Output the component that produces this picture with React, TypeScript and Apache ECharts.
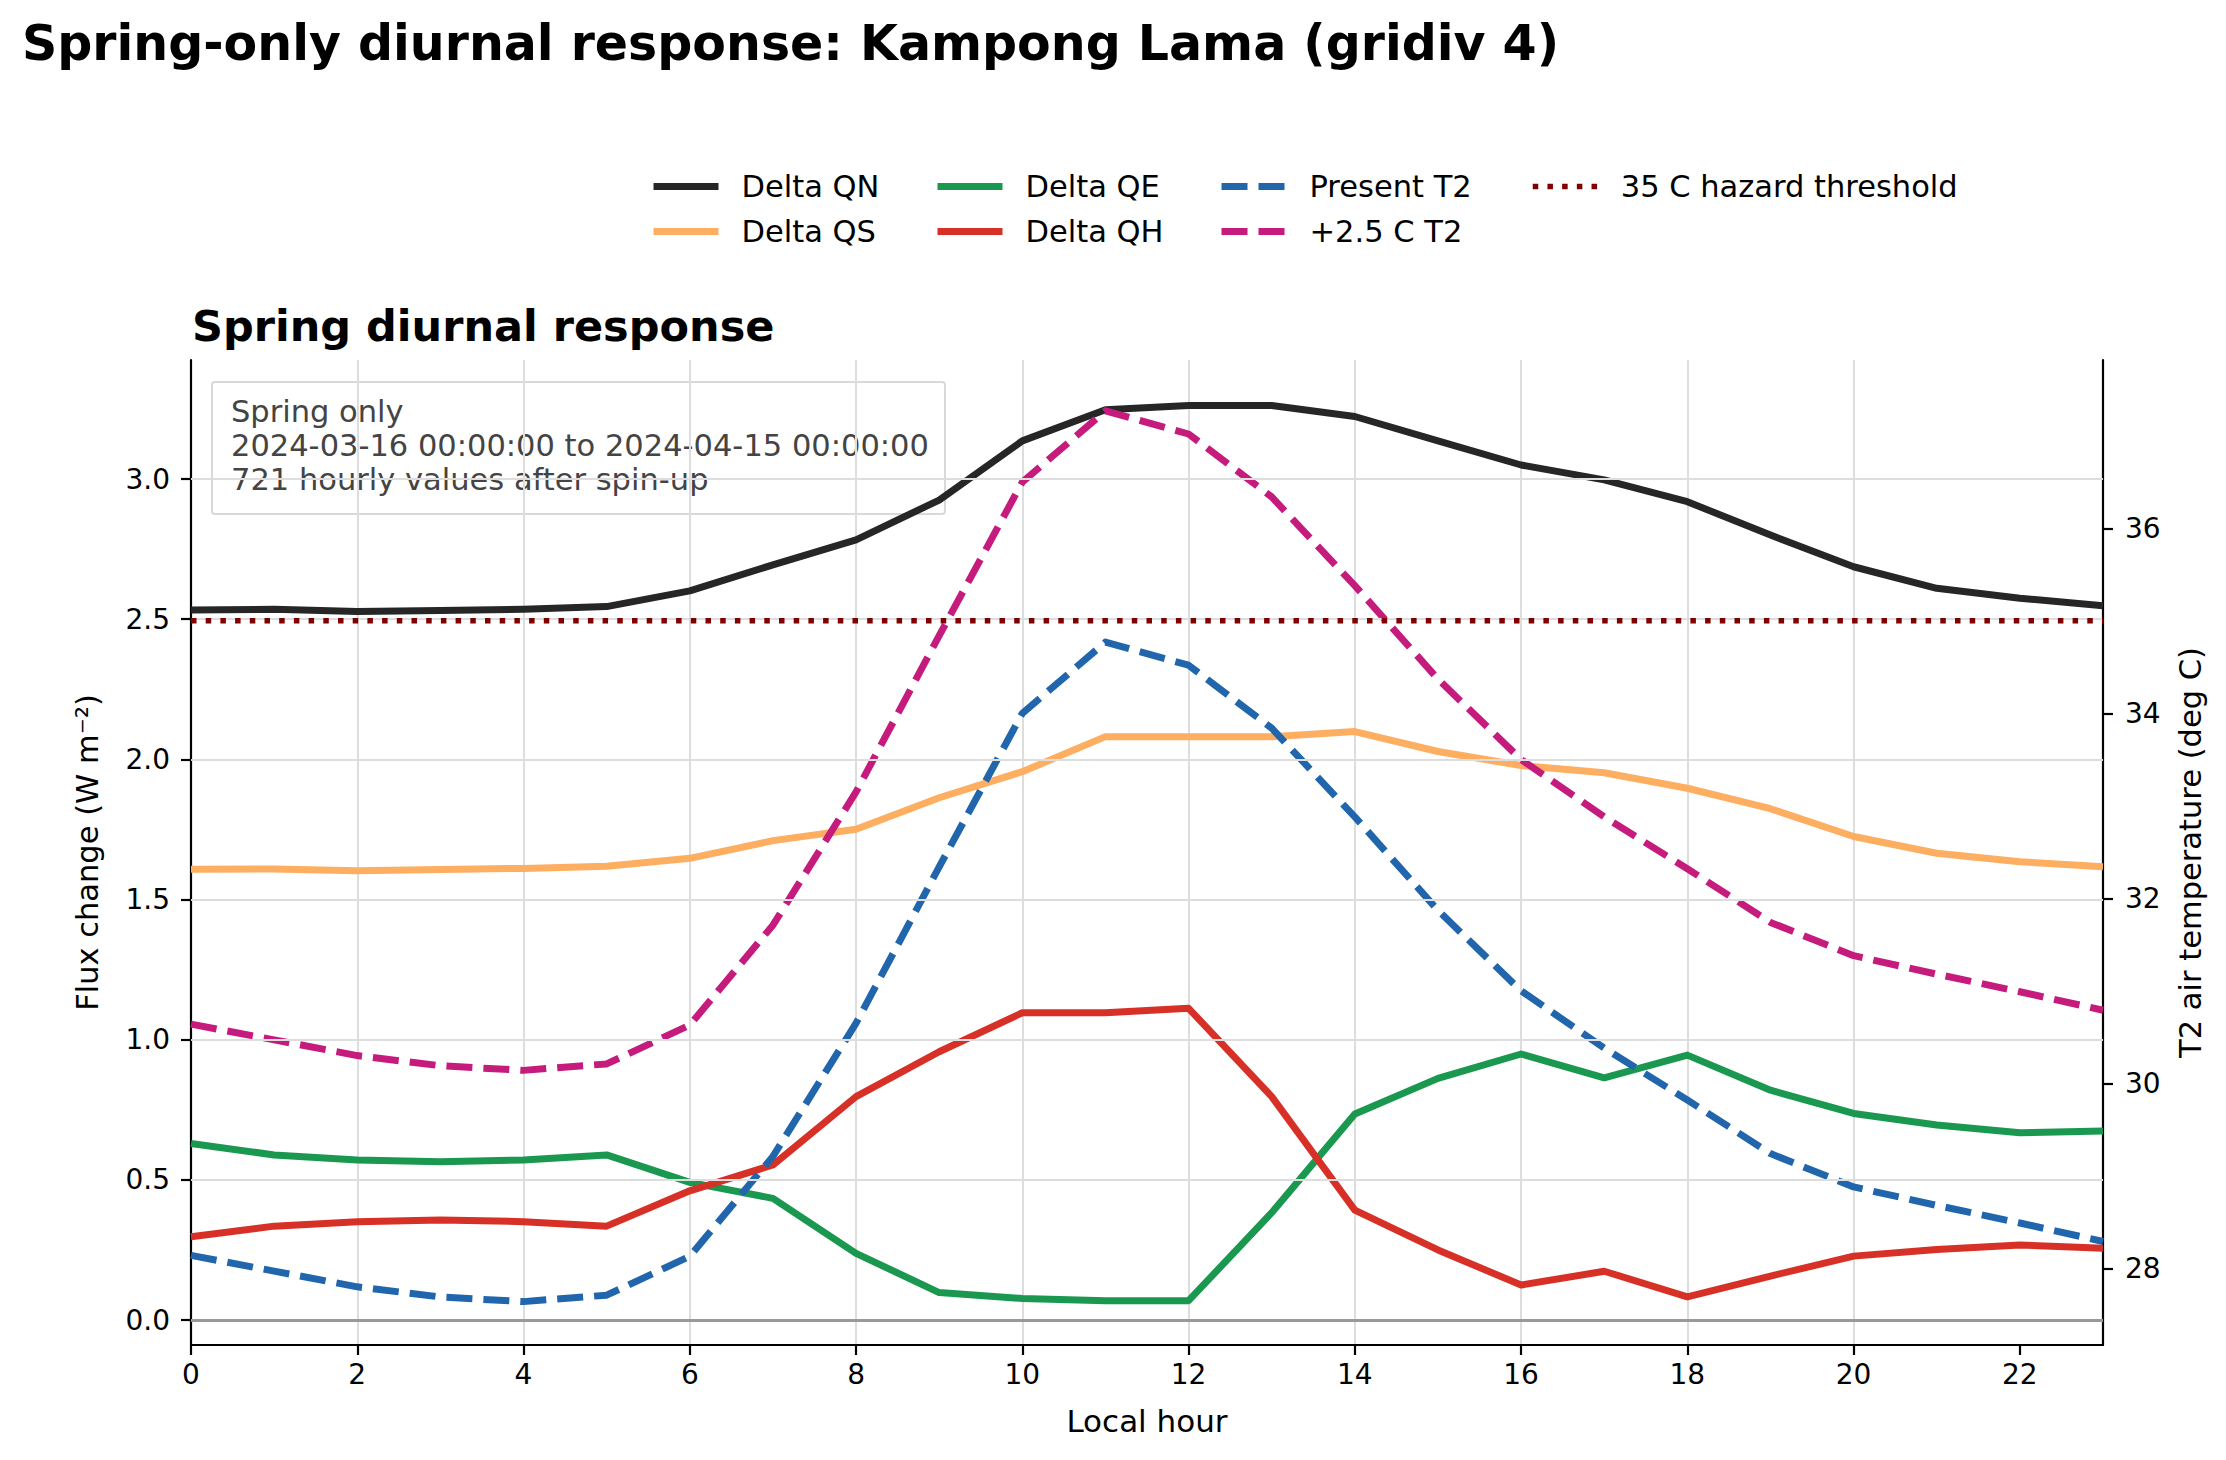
import React, { useEffect, useRef } from "react";
import * as echarts from "echarts";

// Local hour of day
const HOURS = [0, 1, 2, 3, 4, 5, 6, 7, 8, 9, 10, 11, 12, 13, 14, 15, 16, 17, 18, 19, 20, 21, 22, 23];

// Flux changes (W m-2), left axis
const DELTA_QN = [2.533, 2.535, 2.527, 2.531, 2.535, 2.545, 2.601, 2.694, 2.783, 2.925, 3.136, 3.247, 3.262, 3.262, 3.223, 3.136, 3.05, 2.997, 2.919, 2.8, 2.687, 2.61, 2.575, 2.548];
const DELTA_QS = [1.608, 1.609, 1.603, 1.607, 1.611, 1.619, 1.647, 1.71, 1.751, 1.863, 1.956, 2.081, 2.081, 2.081, 2.099, 2.028, 1.978, 1.952, 1.897, 1.824, 1.725, 1.665, 1.635, 1.617];
const DELTA_QE = [0.63, 0.589, 0.571, 0.565, 0.571, 0.589, 0.491, 0.434, 0.238, 0.098, 0.077, 0.069, 0.069, 0.383, 0.735, 0.862, 0.949, 0.864, 0.945, 0.82, 0.737, 0.696, 0.668, 0.674];
const DELTA_QH = [0.297, 0.335, 0.351, 0.357, 0.351, 0.335, 0.461, 0.553, 0.797, 0.957, 1.096, 1.096, 1.112, 0.797, 0.392, 0.25, 0.125, 0.174, 0.083, 0.157, 0.228, 0.252, 0.268, 0.256];

// Near-surface air temperature (deg C), right axis
const T2_PRESENT = [28.14, 27.97, 27.8, 27.69, 27.64, 27.71, 28.13, 29.21, 30.65, 32.34, 34.0, 34.77, 34.52, 33.84, 32.88, 31.87, 31.0, 30.38, 29.82, 29.24, 28.88, 28.68, 28.49, 28.29];
const T2_WARM = [30.64, 30.47, 30.3, 30.19, 30.14, 30.21, 30.63, 31.71, 33.15, 34.84, 36.5, 37.27, 37.02, 36.34, 35.38, 34.37, 33.5, 32.88, 32.32, 31.74, 31.38, 31.18, 30.99, 30.79];
const HAZARD_T = 35;

// Axis ticks
const X_TICKS = [0, 2, 4, 6, 8, 10, 12, 14, 16, 18, 20, 22];
const LEFT_TICKS = [0, 0.5, 1.0, 1.5, 2.0, 2.5, 3.0];
const RIGHT_TICKS = [28, 30, 32, 34, 36];

const NOTE_LINES = [
  "Spring only",
  "2024-03-16 00:00:00 to 2024-04-15 00:00:00",
  "721 hourly values after spin-up",
];

const FONT = "DejaVu Sans";

const C_QN = "#262626";
const C_QS = "#fdae61";
const C_QE = "#1a9850";
const C_QH = "#d73027";
const C_T2 = "#2166ac";
const C_T2W = "#c51b7d";
const C_HAZ = "#7f0000";

const pairs = (vals: number[]) => HOURS.map((h, i) => [h, vals[i]]);

export default function App() {
  const ref = useRef<HTMLDivElement>(null);

  useEffect(() => {
    if (!ref.current) return;
    const chart = echarts.init(ref.current, undefined, { renderer: "svg" });

    const solid = (name: string, color: string, vals: number[]) => ({
      name,
      type: "line",
      yAxisIndex: 0,
      data: pairs(vals),
      symbol: "none",
      lineStyle: { color, width: 7, join: "round", cap: "butt" },
      itemStyle: { color },
      z: 3,
    });
    const dashed = (name: string, color: string, vals: number[]) => ({
      name,
      type: "line",
      yAxisIndex: 1,
      data: pairs(vals),
      symbol: "none",
      lineStyle: { color, width: 7, type: [26, 11], join: "round", cap: "butt" },
      itemStyle: { color },
      z: 4,
    });

    const legendCol = (left: number, names: string[], width = 7) => ({
      orient: "vertical",
      left,
      top: 166,
      itemWidth: 65,
      itemHeight: 14,
      itemGap: 14,
      selectedMode: false,
      data: names,
      lineStyle: { width },
      itemStyle: { opacity: 0 },
      textStyle: { fontFamily: FONT, fontSize: 30.5, color: "#000", padding: [0, 0, 0, 18] },
    });

    const axisLineStyle = { color: "#000", width: 2.2 };

    chart.setOption({
      animation: false,
      backgroundColor: "#fff",
      title: [
        {
          text: "Spring-only diurnal response: Kampong Lama (gridiv 4)",
          left: 22,
          top: 19,
          padding: 0,
          textStyle: { fontFamily: FONT, fontSize: 49, fontWeight: "bold", color: "#000" },
        },
        {
          text: "Spring diurnal response",
          left: 192,
          top: 304,
          padding: 0,
          textStyle: { fontFamily: FONT, fontSize: 43, fontWeight: "bold", color: "#000" },
        },
      ],
      legend: [
        legendCol(645, ["Delta QN", "Delta QS"]),
        legendCol(929, ["Delta QE", "Delta QH"]),
        legendCol(1213, ["Present T2", "+2.5 C T2"]),
        legendCol(1525, ["35 C hazard threshold"], 5.5),
      ],
      grid: { left: 191, right: 123, top: 360, bottom: 115, containLabel: false },
      xAxis: {
        type: "value",
        min: 0,
        max: 23,
        interval: 2,
        name: "Local hour",
        nameLocation: "middle",
        nameGap: 60,
        nameTextStyle: { fontFamily: FONT, fontSize: 31, color: "#000" },
        axisLine: { show: true, onZero: false, lineStyle: axisLineStyle },
        axisTick: { show: true, inside: false, length: 10, customValues: X_TICKS, lineStyle: axisLineStyle },
        axisLabel: { customValues: X_TICKS, margin: 15, fontFamily: FONT, fontSize: 28, color: "#000" },
        splitLine: { show: true, showMaxLine: false, lineStyle: { color: "#dddddd", width: 2 } },
      },
      yAxis: [
        {
          type: "value",
          position: "left",
          min: -0.089,
          max: 3.4245,
          name: "Flux change (W m⁻²)",
          nameLocation: "middle",
          nameGap: 88,
          nameTextStyle: { fontFamily: FONT, fontSize: 30.5, color: "#000" },
          axisLine: { show: true, onZero: false, lineStyle: axisLineStyle },
          axisTick: { show: true, length: 10, customValues: LEFT_TICKS, lineStyle: axisLineStyle },
          axisLabel: {
            customValues: LEFT_TICKS,
            margin: 21,
            fontFamily: FONT,
            fontSize: 28,
            color: "#000",
            formatter: (v: number) => v.toFixed(1),
          },
          splitLine: { show: false },
        },
        {
          type: "value",
          position: "right",
          min: 27.171,
          max: 37.82,
          name: "T2 air temperature (deg C)",
          nameLocation: "middle",
          nameGap: 72,
          nameTextStyle: { fontFamily: FONT, fontSize: 30.5, color: "#000" },
          axisLine: { show: true, onZero: false, lineStyle: axisLineStyle },
          axisTick: { show: true, length: 10, customValues: RIGHT_TICKS, lineStyle: axisLineStyle },
          axisLabel: {
            customValues: RIGHT_TICKS,
            margin: 22,
            fontFamily: FONT,
            fontSize: 28,
            color: "#000",
            formatter: (v: number) => String(Math.round(v)),
          },
          splitLine: { show: false },
        },
      ],
      series: [
        {
          // horizontal grid and zero reference line
          name: "__grid",
          type: "line",
          yAxisIndex: 0,
          data: HOURS.map((h) => [h, null]),
          symbol: "none",
          silent: true,
          z: 1,
          markLine: {
            silent: true,
            symbol: "none",
            label: { show: false },
            animation: false,
            lineStyle: { color: "#dddddd", width: 2, type: "solid" },
            data: [
              ...LEFT_TICKS.map((v) => ({ yAxis: v })),
              { yAxis: 0, lineStyle: { color: "#999999", width: 2.8, type: "solid" } },
            ],
          },
        },
        solid("Delta QN", C_QN, DELTA_QN),
        solid("Delta QS", C_QS, DELTA_QS),
        solid("Delta QE", C_QE, DELTA_QE),
        solid("Delta QH", C_QH, DELTA_QH),
        dashed("Present T2", C_T2, T2_PRESENT),
        dashed("+2.5 C T2", C_T2W, T2_WARM),
        {
          name: "35 C hazard threshold",
          type: "line",
          yAxisIndex: 1,
          data: [
            [HOURS[0], HAZARD_T],
            [HOURS[HOURS.length - 1], HAZARD_T],
          ],
          symbol: "none",
          lineStyle: { color: C_HAZ, width: 5.5, type: [5.5, 9.2], cap: "butt" },
          itemStyle: { color: C_HAZ },
          z: 5,
        },
      ],
      graphic: [
        {
          type: "group",
          z: 100,
          children: [
            {
              type: "rect",
              shape: { x: 212, y: 382, width: 733, height: 132, r: 3 },
              style: { fill: "rgba(255,255,255,0.8)", stroke: "#d9d9d9", lineWidth: 2 },
            },
            {
              type: "text",
              x: 231,
              y: 394,
              style: {
                text: NOTE_LINES.join("\n"),
                fontFamily: FONT,
                fontSize: 30.5,
                lineHeight: 34,
                fill: "#444444",
                textVerticalAlign: "top",
              },
            },
          ],
        },
      ],
    });

    return () => chart.dispose();
  }, []);

  return (
    <div
      ref={ref}
      style={{ position: "absolute", left: 0, top: 0, width: 2226, height: 1460, background: "#fff" }}
    />
  );
}
